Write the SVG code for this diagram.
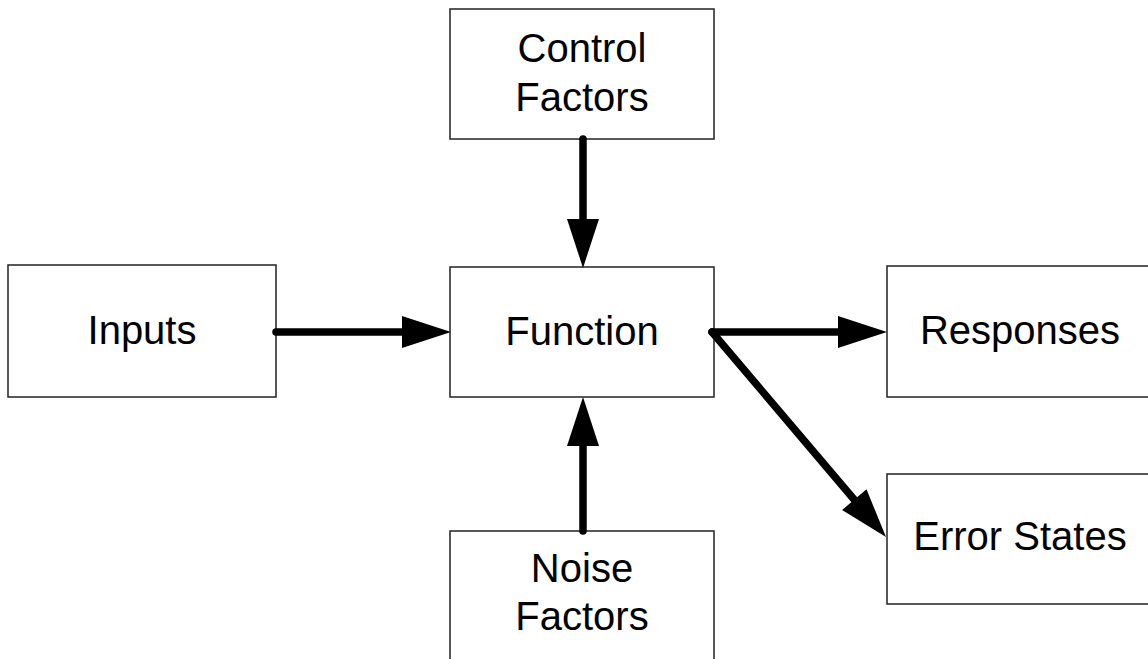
<svg xmlns="http://www.w3.org/2000/svg" width="1148" height="659" viewBox="0 0 1148 659">
<style>
.box{fill:#fff;stroke:#222;stroke-width:1.5}
.lbl{font-family:"Liberation Sans",Arial,sans-serif;font-size:40px;fill:#000;text-anchor:middle}
.conn{stroke:#000;stroke-width:7.5;stroke-linecap:round;fill:none}
</style>
<defs>
<marker id="ah" markerUnits="userSpaceOnUse" markerWidth="49" markerHeight="32" refX="0" refY="16" orient="auto" overflow="visible">
<path d="M0,0 L49,16 L0,32 Z" fill="#000"/>
</marker>
</defs>
<rect width="1148" height="659" fill="#fff"/>
<g id="control"><rect class="box" x="450" y="9" width="264" height="130"/><text class="lbl" x="582" y="62">Control</text><text class="lbl" x="582" y="111">Factors</text></g>
<g id="inputs"><rect class="box" x="8" y="265" width="268" height="132"/><text class="lbl" x="142" y="344">Inputs</text></g>
<g id="function"><rect class="box" x="450" y="267" width="264" height="130"/><text class="lbl" x="582" y="345">Function</text></g>
<g id="responses"><rect class="box" x="887" y="266" width="266" height="131"/><text class="lbl" x="1020" y="344">Responses</text></g>
<g id="errors"><rect class="box" x="887" y="474" width="266" height="130"/><text class="lbl" x="1020" y="550">Error States</text></g>
<g id="noise"><rect class="box" x="450" y="531" width="264" height="140"/><text class="lbl" x="582" y="582">Noise</text><text class="lbl" x="582" y="630">Factors</text></g>
<g id="connectors">
<line class="conn" x1="583" y1="139" x2="583" y2="219" marker-end="url(#ah)"/>
<line class="conn" x1="276" y1="332" x2="402" y2="332" marker-end="url(#ah)"/>
<line class="conn" x1="583" y1="531" x2="583" y2="446" marker-end="url(#ah)"/>
<line class="conn" x1="712" y1="332" x2="838" y2="332" marker-end="url(#ah)"/>
<line class="conn" x1="712" y1="332" x2="854.3" y2="499.7" marker-end="url(#ah)"/>
</g>
</svg>
